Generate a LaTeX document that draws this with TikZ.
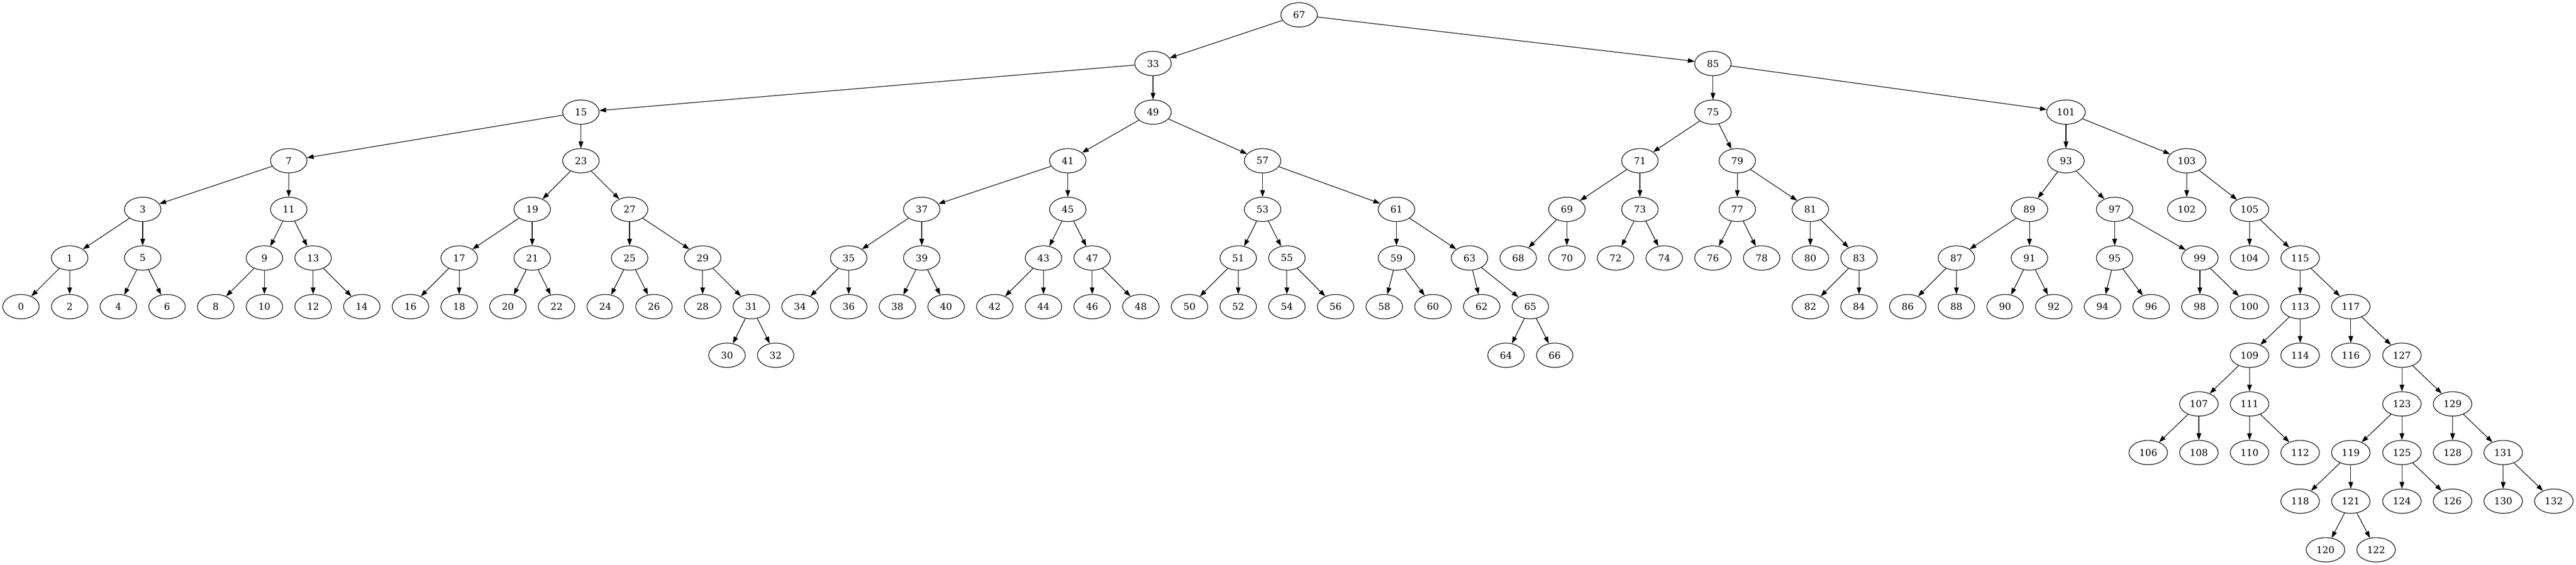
\documentclass[tikz,border=0pt]{standalone}
\usepackage{fontspec}
\setmainfont{DejaVu Serif}
\usetikzlibrary{arrows.meta,shapes.geometric}
\tikzset{
  nd/.style={draw, ellipse, line width=0.9pt, minimum width=54pt, minimum height=36pt, inner sep=0pt,
    font=\fontsize{14pt}{16pt}\selectfont},
  wide/.style={minimum width=57pt},
  edge/.style={line width=0.9pt, -{Triangle[length=10pt,width=7pt]}}
}
\begin{document}
\begin{tikzpicture}
\path[use as bounding box] (0,0) rectangle (3809.25pt,-836.25pt);
\begin{scope}[x=72pt,y=-72pt,xshift=31pt,yshift=-22pt]
% level 0
\node[nd] (n67) at (26.25,0) {67};
% level 1
\node[nd] (n33) at (23.25,1) {33};
\node[nd] (n85) at (34.75,1) {85};
% level 2
\node[nd] (n15) at (11.5,2) {15};
\node[nd] (n49) at (23.25,2) {49};
\node[nd] (n75) at (34.75,2) {75};
\node[nd,wide] (n101) at (42,2) {101};
% level 3
\node[nd] (n7) at (5.5,3) {7};
\node[nd] (n23) at (11.5,3) {23};
\node[nd] (n41) at (21.5,3) {41};
\node[nd] (n57) at (25.5,3) {57};
\node[nd] (n71) at (33.25,3) {71};
\node[nd] (n79) at (35.25,3) {79};
\node[nd] (n93) at (42,3) {93};
\node[nd,wide] (n103) at (44.48,3) {103};
% level 4
\node[nd] (n3) at (2.5,4) {3};
\node[nd] (n11) at (5.5,4) {11};
\node[nd] (n19) at (10.5,4) {19};
\node[nd] (n27) at (12.5,4) {27};
\node[nd] (n37) at (18.5,4) {37};
\node[nd] (n45) at (21.5,4) {45};
\node[nd] (n53) at (25.5,4) {53};
\node[nd] (n61) at (28.25,4) {61};
\node[nd] (n69) at (31.75,4) {69};
\node[nd] (n73) at (33.25,4) {73};
\node[nd] (n77) at (35.25,4) {77};
\node[nd] (n81) at (36.75,4) {81};
\node[nd] (n89) at (41.25,4) {89};
\node[nd] (n97) at (43,4) {97};
\node[nd,wide] (n102) at (44.48,4) {102};
\node[nd,wide] (n105) at (45.77,4) {105};
% level 5
\node[nd] (n1) at (1,5) {1};
\node[nd] (n5) at (2.5,5) {5};
\node[nd] (n9) at (5,5) {9};
\node[nd] (n13) at (6,5) {13};
\node[nd] (n17) at (9,5) {17};
\node[nd] (n21) at (10.5,5) {21};
\node[nd] (n25) at (12.5,5) {25};
\node[nd] (n29) at (14,5) {29};
\node[nd] (n35) at (17,5) {35};
\node[nd] (n39) at (18.5,5) {39};
\node[nd] (n43) at (21,5) {43};
\node[nd] (n47) at (22,5) {47};
\node[nd] (n51) at (25,5) {51};
\node[nd] (n55) at (26,5) {55};
\node[nd] (n59) at (28.25,5) {59};
\node[nd] (n63) at (29.75,5) {63};
\node[nd] (n68) at (30.75,5) {68};
\node[nd] (n70) at (31.75,5) {70};
\node[nd] (n72) at (32.75,5) {72};
\node[nd] (n74) at (33.75,5) {74};
\node[nd] (n76) at (34.75,5) {76};
\node[nd] (n78) at (35.75,5) {78};
\node[nd] (n80) at (36.75,5) {80};
\node[nd] (n83) at (37.75,5) {83};
\node[nd] (n87) at (39.75,5) {87};
\node[nd] (n91) at (41.25,5) {91};
\node[nd] (n95) at (43,5) {95};
\node[nd] (n99) at (44.75,5) {99};
\node[nd,wide] (n104) at (45.77,5) {104};
\node[nd,wide] (n115) at (46.81,5) {115};
% level 6
\node[nd] (n0) at (0,6) {0};
\node[nd] (n2) at (1,6) {2};
\node[nd] (n4) at (2,6) {4};
\node[nd] (n6) at (3,6) {6};
\node[nd] (n8) at (4,6) {8};
\node[nd] (n10) at (5,6) {10};
\node[nd] (n12) at (6,6) {12};
\node[nd] (n14) at (7,6) {14};
\node[nd] (n16) at (8,6) {16};
\node[nd] (n18) at (9,6) {18};
\node[nd] (n20) at (10,6) {20};
\node[nd] (n22) at (11,6) {22};
\node[nd] (n24) at (12,6) {24};
\node[nd] (n26) at (13,6) {26};
\node[nd] (n28) at (14,6) {28};
\node[nd] (n31) at (15,6) {31};
\node[nd] (n34) at (16,6) {34};
\node[nd] (n36) at (17,6) {36};
\node[nd] (n38) at (18,6) {38};
\node[nd] (n40) at (19,6) {40};
\node[nd] (n42) at (20,6) {42};
\node[nd] (n44) at (21,6) {44};
\node[nd] (n46) at (22,6) {46};
\node[nd] (n48) at (23,6) {48};
\node[nd] (n50) at (24,6) {50};
\node[nd] (n52) at (25,6) {52};
\node[nd] (n54) at (26,6) {54};
\node[nd] (n56) at (27,6) {56};
\node[nd] (n58) at (28,6) {58};
\node[nd] (n60) at (29,6) {60};
\node[nd] (n62) at (30,6) {62};
\node[nd] (n65) at (31,6) {65};
\node[nd] (n82) at (36.75,6) {82};
\node[nd] (n84) at (37.75,6) {84};
\node[nd] (n86) at (38.75,6) {86};
\node[nd] (n88) at (39.75,6) {88};
\node[nd] (n90) at (40.75,6) {90};
\node[nd] (n92) at (41.75,6) {92};
\node[nd] (n94) at (42.75,6) {94};
\node[nd] (n96) at (43.75,6) {96};
\node[nd] (n98) at (44.75,6) {98};
\node[nd,wide] (n100) at (45.77,6) {100};
\node[nd,wide] (n113) at (46.81,6) {113};
\node[nd,wide] (n117) at (47.85,6) {117};
% level 7
\node[nd] (n30) at (14.5,7) {30};
\node[nd] (n32) at (15.5,7) {32};
\node[nd] (n64) at (30.5,7) {64};
\node[nd] (n66) at (31.5,7) {66};
\node[nd,wide] (n109) at (45.77,7) {109};
\node[nd,wide] (n114) at (46.81,7) {114};
\node[nd,wide] (n116) at (47.85,7) {116};
\node[nd,wide] (n127) at (48.9,7) {127};
% level 8
\node[nd,wide] (n107) at (44.73,8) {107};
\node[nd,wide] (n111) at (45.77,8) {111};
\node[nd,wide] (n123) at (48.9,8) {123};
\node[nd,wide] (n129) at (49.94,8) {129};
% level 9
\node[nd,wide] (n106) at (43.69,9) {106};
\node[nd,wide] (n108) at (44.73,9) {108};
\node[nd,wide] (n110) at (45.77,9) {110};
\node[nd,wide] (n112) at (46.81,9) {112};
\node[nd,wide] (n119) at (47.85,9) {119};
\node[nd,wide] (n125) at (48.9,9) {125};
\node[nd,wide] (n128) at (49.94,9) {128};
\node[nd,wide] (n131) at (50.98,9) {131};
% level 10
\node[nd,wide] (n118) at (46.81,10) {118};
\node[nd,wide] (n121) at (47.85,10) {121};
\node[nd,wide] (n124) at (48.9,10) {124};
\node[nd,wide] (n126) at (49.94,10) {126};
\node[nd,wide] (n130) at (50.98,10) {130};
\node[nd,wide] (n132) at (52.02,10) {132};
% level 11
\node[nd,wide] (n120) at (47.33,11) {120};
\node[nd,wide] (n122) at (48.37,11) {122};
\end{scope}
\foreach \a/\b in {67/33,67/85,33/15,33/49,15/7,15/23,7/3,7/11,3/1,3/5,1/0,1/2,5/4,5/6,
  11/9,11/13,9/8,9/10,13/12,13/14,23/19,23/27,19/17,19/21,17/16,17/18,21/20,21/22,
  27/25,27/29,25/24,25/26,29/28,29/31,31/30,31/32,49/41,49/57,41/37,41/45,37/35,37/39,
  35/34,35/36,39/38,39/40,45/43,45/47,43/42,43/44,47/46,47/48,57/53,57/61,53/51,53/55,
  51/50,51/52,55/54,55/56,61/59,61/63,59/58,59/60,63/62,63/65,65/64,65/66,
  85/75,85/101,75/71,75/79,71/69,71/73,69/68,69/70,73/72,73/74,79/77,79/81,77/76,77/78,
  81/80,81/83,83/82,83/84,101/93,101/103,93/89,93/97,89/87,89/91,87/86,87/88,91/90,91/92,
  97/95,97/99,95/94,95/96,99/98,99/100,103/102,103/105,105/104,105/115,115/113,115/117,
  113/109,113/114,109/107,109/111,107/106,107/108,111/110,111/112,117/116,117/127,
  127/123,127/129,123/119,123/125,119/118,119/121,121/120,121/122,125/124,125/126,
  129/128,129/131,131/130,131/132}
  \draw[edge] (n\a) -- (n\b);
\end{tikzpicture}
\end{document}
